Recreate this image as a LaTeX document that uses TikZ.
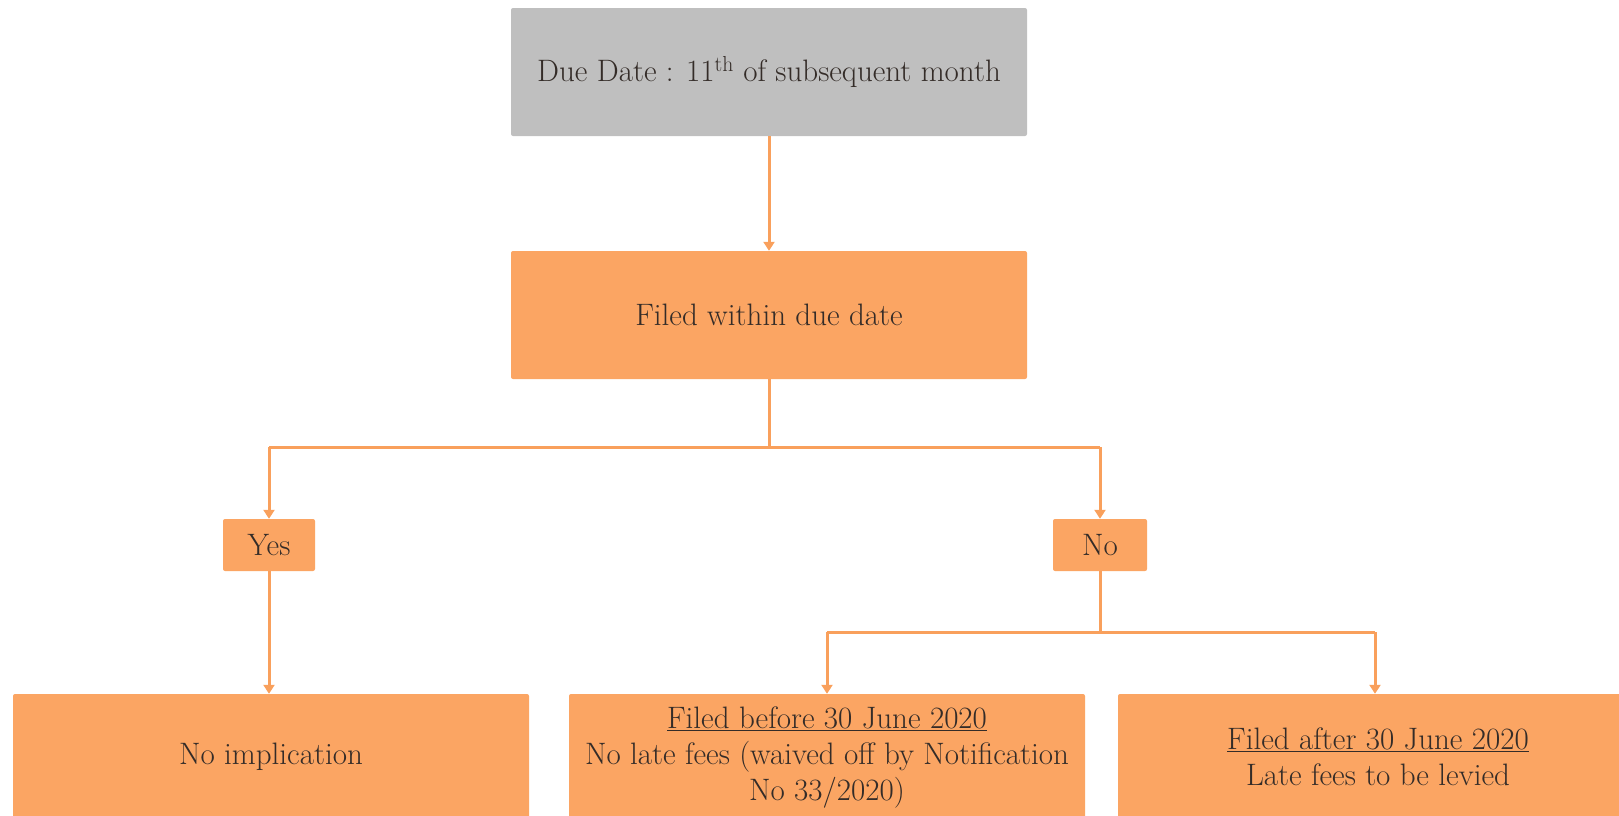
\documentclass[tikz,border=0pt]{standalone}
\usetikzlibrary{arrows.meta}
\definecolor{boxorange}{RGB}{251,165,99}
\definecolor{boxgray}{RGB}{191,191,191}
\definecolor{linkorange}{RGB}{249,160,92}
\definecolor{inkgray}{RGB}{52,44,40}
\begin{document}
\begin{tikzpicture}[x=1pt,y=-1pt,
  every node/.style={font=\fontsize{31}{36}\selectfont, text=inkgray, align=center, inner sep=0pt},
  stagebox/.style={fill=boxorange, rounded corners=2pt},
  graybox/.style={fill=boxgray, rounded corners=2pt},
  link/.style={draw=linkorange, line width=3pt},
  arrowlink/.style={link, -{Triangle[width=11pt,length=9pt]}}]
\useasboundingbox (0,0) rectangle (1619,815);
\clip (0,0) rectangle (1619,815);

% main chain
\node[graybox, minimum width=516pt, minimum height=128pt] (due) at (769,72) {Due Date : 11\textsuperscript{th} of subsequent month};
\node[stagebox, minimum width=516pt, minimum height=128pt] (filed) at (769,315) {Filed within due date};

% decision boxes
\node[stagebox, minimum width=92pt, minimum height=52pt] (yes) at (269,545) {Yes};
\node[stagebox, minimum width=94pt, minimum height=52pt] (no) at (1100,545) {No};

% outcomes (they run past the lower edge)
\node[stagebox, minimum width=516pt, minimum height=126pt] (noimp) at (271,757) {No implication};
\node[stagebox, minimum width=516pt, minimum height=126pt] (before) at (827,757)
  {\underline{Filed before 30 June 2020}\\No late fees (waived off by Notification\\No 33/2020)};
\node[stagebox, minimum width=520pt, minimum height=126pt] (after) at (1378,757)
  {\underline{Filed after 30 June 2020}\\Late fees to be levied};

% junction points
\coordinate (split) at (769,447);
\coordinate (splitL) at (269,447);
\coordinate (splitR) at (1100,447);
\coordinate (nosplit) at (1100,632);
\coordinate (nosplitL) at (827,632);
\coordinate (nosplitR) at (1375,632);

% connectors
\draw[arrowlink] (due.south) -- (filed.north);
\draw[link] (filed.south) -- (split);
\draw[link] (splitL) -- (splitR);
\draw[arrowlink] (splitL) -- (yes.north);
\draw[arrowlink] (splitR) -- (no.north);
\draw[arrowlink] (yes.south) -- (yes.south |- noimp.north);
\draw[link] (no.south) -- (nosplit);
\draw[link] (nosplitL) -- (nosplitR);
\draw[arrowlink] (nosplitL) -- (nosplitL |- before.north);
\draw[arrowlink] (nosplitR) -- (nosplitR |- after.north);
\end{tikzpicture}
\end{document}
